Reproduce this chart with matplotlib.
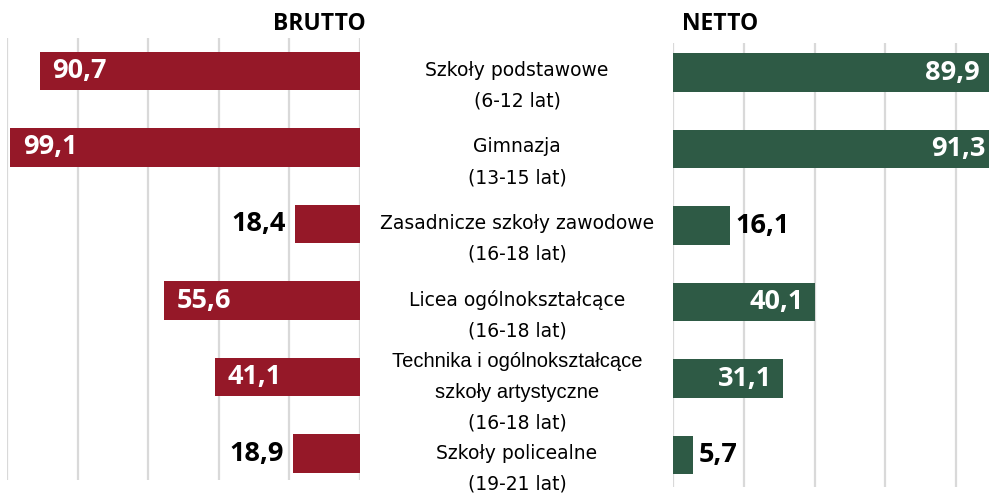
import matplotlib
matplotlib.use('Agg')
import matplotlib.pyplot as plt

# data
categories = ['Szkoły podstawowe\n(6-12 lat)',
              'Gimnazja\n(13-15 lat)',
              'Zasadnicze szkoły zawodowe\n(16-18 lat)',
              'Licea ogólnokształcące\n(16-18 lat)',
              'Technika i ogólnokształcące\nszkoły artystyczne\n(16-18 lat)',
              'Szkoły policealne\n(19-21 lat)']
brutto = [90.7, 99.1, 18.4, 55.6, 41.1, 18.9]
netto = [89.9, 91.3, 16.1, 40.1, 31.1, 5.7]

RED = '#951828'
GREEN = '#2e5a45'
GRID = '#d9d9d9'
VAL_FONT = ['Open Sans', 'DejaVu Sans']
CAT_FONT = ['DejaVu Sans']
NARROW_FONT = ['Liberation Sans', 'DejaVu Sans']  # the long label is set narrower

W, H = 989, 496
fig = plt.figure(figsize=(W / 100, H / 100), dpi=100)

def px_axes(x0, y_top, x1, y_bot):
    # axes rectangle given in pixel coords of the picture (y from top)
    return fig.add_axes([x0 / W, 1 - y_bot / H, (x1 - x0) / W, (y_bot - y_top) / H])

def style(ax):
    ax.set_xticks([0, 20, 40, 60, 80, 100])
    ax.grid(axis='x', color=GRID, linewidth=1.6)
    ax.set_axisbelow(True)
    ax.tick_params(left=False, bottom=False, labelleft=False, labelbottom=False)
    for s in ax.spines.values():
        s.set_visible(False)
    ax.patch.set_alpha(0)

def fmt(v):
    return f'{v:.1f}'.replace('.', ',')

pos = list(range(len(categories)))

# left panel: BRUTTO, bars grow to the left
ax_l = px_axes(7, 38, 360, 480)
ax_l.barh(pos, brutto, height=0.5, color=RED)
ax_l.set_xlim(100, 0)
ax_l.set_ylim(5.346, -0.431)
style(ax_l)
for i, v in enumerate(brutto):
    if v > 25:
        ax_l.annotate(fmt(v), (v, i), xytext=(9, 0), textcoords='offset points',
                      ha='left', va='center', color='white', fontsize=19.5,
                      fontweight='bold', family=VAL_FONT)
    else:
        ax_l.annotate(fmt(v), (v, i), xytext=(-7, 0), textcoords='offset points',
                      ha='right', va='center', color='black', fontsize=19.5,
                      fontweight='bold', family=VAL_FONT)

# right panel: NETTO, runs off the right edge like the original
ax_r = px_axes(673, 43, 1027, 487)
ax_r.barh(pos, netto, height=0.5, color=GREEN)
ax_r.set_xlim(0, 100)
ax_r.set_ylim(5.418, -0.386)
style(ax_r)
for i, v in enumerate(netto):
    if v > 25:
        ax_r.annotate(fmt(v), (v, i), xytext=(-8, 0), textcoords='offset points',
                      ha='right', va='center', color='white', fontsize=19.5,
                      fontweight='bold', family=VAL_FONT)
    else:
        ax_r.annotate(fmt(v), (v, i), xytext=(4, 0), textcoords='offset points',
                      ha='left', va='center', color='black', fontsize=19.5,
                      fontweight='bold', family=VAL_FONT)

# category labels in the centre column (x = 517 px), one line at a time
for i, c in enumerate(categories):
    lines = c.split('\n')
    n = len(lines)
    for k, line in enumerate(lines):
        dy = 15 + (k - (n - 1) / 2) * 31  # pixels below bar centre
        narrow = n == 3 and k < 2
        ax_l.annotate(line, (517, i), xycoords=('figure pixels', 'data'),
                      xytext=(0, -dy * 0.72), textcoords='offset points',
                      ha='center', va='center',
                      fontsize=14.5 if narrow else 13.5,
                      family=NARROW_FONT if narrow else CAT_FONT,
                      annotation_clip=False)

fig.text(319 / W, 1 - 24 / H, 'BRUTTO', ha='center', va='center', fontsize=16.5,
         fontweight='bold', family=VAL_FONT)
fig.text(720 / W, 1 - 24 / H, 'NETTO', ha='center', va='center', fontsize=16.5,
         fontweight='bold', family=VAL_FONT)

fig.savefig('out.png', dpi=100)
